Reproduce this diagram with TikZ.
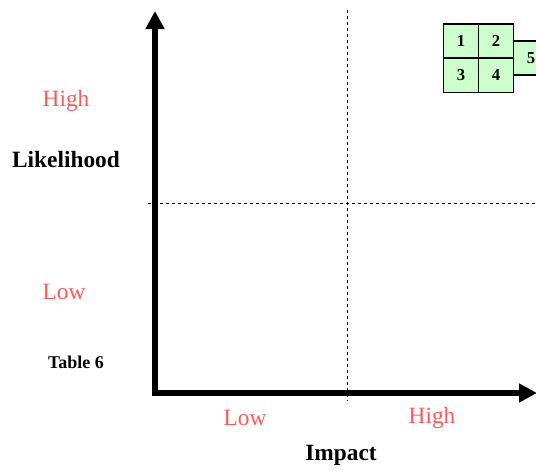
\documentclass[tikz,border=0pt]{standalone}
\usepackage{fontspec}
\setmainfont{Liberation Serif}
\usetikzlibrary{arrows.meta}
\definecolor{lblred}{RGB}{255,90,90}
\definecolor{boxgreen}{RGB}{204,255,204}
\begin{document}
\begin{tikzpicture}[x=0.75pt,y=-0.75pt,
  axis/.style={line width=3.8pt,-{Triangle[length=13.5pt,width=13.5pt]}},
  guide/.style={line width=0.75pt,dash pattern=on 2.5pt off 2pt},
  redlbl/.style={text=lblred,font=\fontsize{17.5}{20}\selectfont,inner sep=0pt},
  boldlbl/.style={font=\fontsize{17.5}{20}\selectfont\bfseries,inner sep=0pt},
  cell/.style={draw,line width=1.2pt,fill=boxgreen,minimum width=26.25pt,minimum height=25.5pt,inner sep=0pt,font=\fontsize{12.5}{14}\selectfont\bfseries}]
\useasboundingbox (0,0) rectangle (536,471);
% guides
\coordinate (vt) at (347,10);
\coordinate (vb) at (347,401);
\coordinate (hl) at (148,203);
\coordinate (hr) at (536,203);
\draw[guide] (vt) -- (vb);
\draw[guide] (hl) -- (hr);
% axes
\coordinate (ytip) at (155,11);
\coordinate (xtip) at (537,393);
\coordinate (xstart) at (152.5,393);
\coordinate (ystart) at (155,395.5);
\draw[axis] (ystart) -- (ytip);
\draw[axis] (xstart) -- (xtip);
% labels
\node[redlbl] (hi) at (66,101) {High};
\node[boldlbl] (lik) at (66,160) {Likelihood};
\node[redlbl] (lo) at (64,292) {Low};
\node[inner sep=0pt,font=\fontsize{13.5}{16}\selectfont\bfseries] (tab) at (76,362) {Table 6};
\node[redlbl] (xlo) at (245,418) {Low};
\node[redlbl] (xhi) at (432,418) {High};
\node[boldlbl] (imp) at (341,455) {Impact};
% boxes
\node[cell] (c5) at (531,58) {5};
\node[cell] (c1) at (461,41) {1};
\node[cell] (c2) at (496,41) {2};
\node[cell] (c3) at (461,75.5) {3};
\node[cell] (c4) at (496,75.5) {4};
\end{tikzpicture}
\end{document}
